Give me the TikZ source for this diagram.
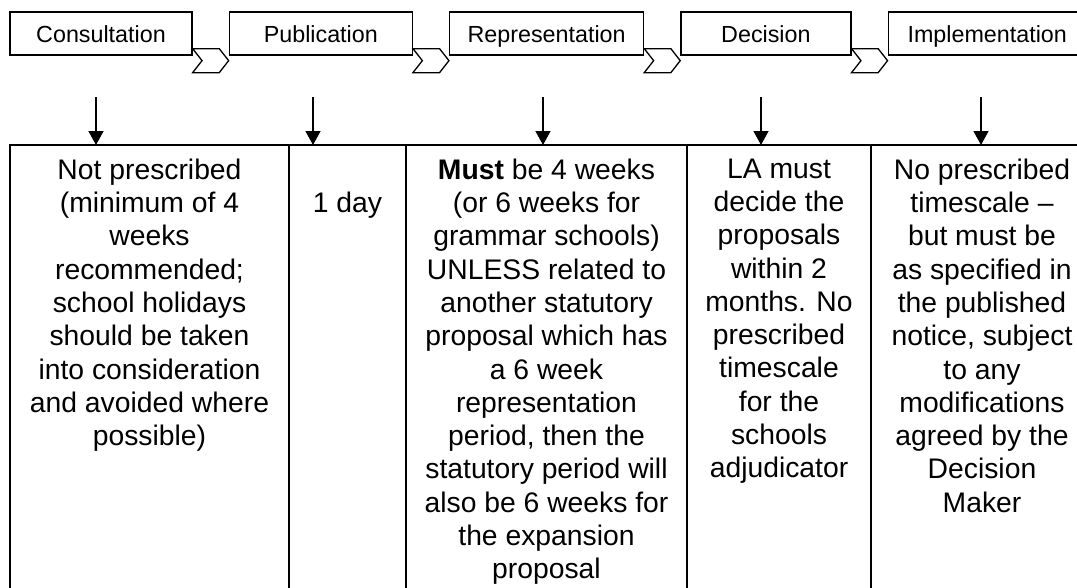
\documentclass[tikz,border=0pt]{standalone}
\usepackage{fontspec}
\setmainfont{Liberation Sans}
\usetikzlibrary{arrows.meta, positioning, calc}

% chevron drawn in the gap between two stage boxes
\newcommand{\stagechevron}[2]{%
  \draw[chev] ($(#1.south east)+(0,-7)$) -- ($(#1.south east)+(9.4,5)$) -- ($(#1.south east)+(0,17)$)
    -- ($(#2.south west)+(-9.4,17)$) -- ($(#2.south west)+(0,5)$) -- ($(#2.south west)+(-9.4,-7)$) -- cycle;}

\begin{document}
\begin{tikzpicture}[
    x=1pt, y=-1pt,
    node distance=36pt,
    stage/.style={rectangle, draw, line width=1.3pt, minimum height=43pt, inner sep=0pt,
                  text height=17pt, text depth=0pt, font=\fontsize{23.3}{28}\selectfont},
    chev/.style={draw, fill=white, line width=1.3pt, line join=miter},
    cell/.style={rectangle, draw, line width=2pt, minimum height=460pt, inner sep=0pt,
                 outer sep=0pt, anchor=north west},
    celltext/.style={align=center, inner sep=0pt, anchor=north,
                     font=\fontsize{28.3}{33.3}\selectfont},
    flow/.style={-{Triangle[length=14pt, width=15pt]}, line width=1.3pt}
]
    \useasboundingbox (0,0) rectangle (1077,587);

    % stages
    \node[stage, minimum width=182pt] (cons) at (101,33.5) {Consultation};
    \node[stage, minimum width=183pt, right=of cons] (publ) {Publication};
    \node[stage, minimum width=194pt, right=of publ] (repr) {Representation};
    \node[stage, minimum width=170pt, right=of repr] (deci) {Decision};
    \node[stage, minimum width=198pt, right=of deci] (impl) {Implementation};

    \stagechevron{cons}{publ}
    \stagechevron{publ}{repr}
    \stagechevron{repr}{deci}
    \stagechevron{deci}{impl}

    % timescale table
    \node[cell, minimum width=279pt] (c1) at (10,145) {};
    \node[cell, minimum width=117pt] (c2) at (c1.north east) {};
    \node[cell, minimum width=281pt] (c3) at (c2.north east) {};
    \node[cell, minimum width=184pt] (c4) at (c3.north east) {};
    \node[cell, minimum width=222pt] (c5) at (c4.north east) {};

    \node[celltext] (t1) at ($(c1.north)+(0,13.5)$) {Not prescribed\\(minimum of 4\\weeks\\recommended;\\school holidays\\should be taken\\into consideration\\and avoided where\\possible)};
    \node[celltext] (t2) at ($(c2.north)+(0,46.8)$) {1 day};
    \node[celltext] (t3) at ($(c3.north)+(0,13.5)$) {\textbf{Must} be 4 weeks\\(or 6 weeks for\\grammar schools)\\UNLESS related to\\another statutory\\proposal which has\\a 6 week\\representation\\period, then the\\statutory period will\\also be 6 weeks for\\the expansion\\proposal};
    \node[celltext] (t4) at ($(c4.north)+(0,13.5)$) {LA must\\decide the\\proposals\\within 2\\months. No\\prescribed\\timescale\\for the\\schools\\adjudicator};
    \node[celltext] (t5) at ($(c5.north)+(0,13.5)$) {No prescribed\\timescale --\\but must be\\as specified in\\the published\\notice, subject\\to any\\modifications\\agreed by the\\Decision\\Maker};

    % arrows into the table
    \coordinate (a1) at (96,97);
    \coordinate (a2) at (313,97);
    \coordinate (a3) at (543,97);
    \coordinate (a4) at (761,97);
    \coordinate (a5) at (981,97);
    \draw[flow] (a1) -- (a1 |- c1.north);
    \draw[flow] (a2) -- (a2 |- c2.north);
    \draw[flow] (a3) -- (a3 |- c3.north);
    \draw[flow] (a4) -- (a4 |- c4.north);
    \draw[flow] (a5) -- (a5 |- c5.north);
\end{tikzpicture}
\end{document}
